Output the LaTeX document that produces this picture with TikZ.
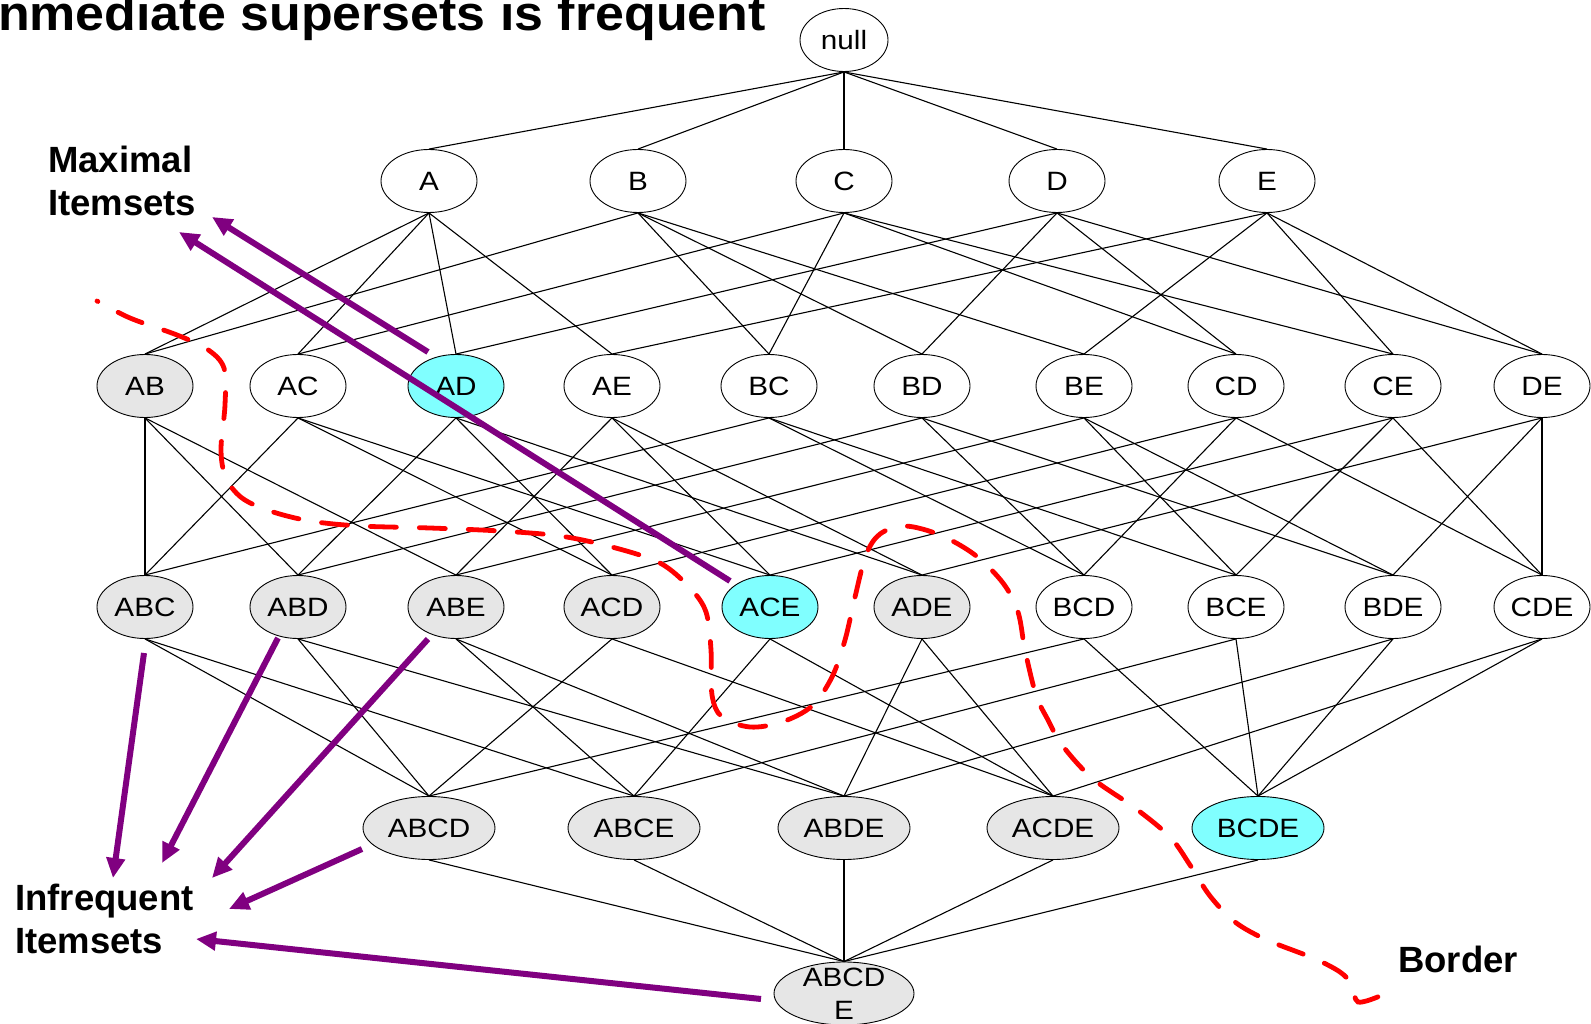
\documentclass[tikz,border=0pt]{standalone}
\usepackage{fontspec}
\setmainfont{Liberation Sans}
\newfontfamily\setfont[FakeStretch=1.12]{Liberation Sans}
\newfontfamily\headfont[FakeStretch=1.06]{Liberation Sans}
\usetikzlibrary{shapes.geometric,arrows.meta}
\definecolor{infreq}{RGB}{230,230,230}
\definecolor{maxcyan}{RGB}{128,255,255}
\definecolor{arrowpurple}{RGB}{128,0,128}

\begin{document}
\begin{tikzpicture}[x=1pt,y=-1pt,
  itemset/.style={ellipse, draw=black, line width=0.9pt, fill=white, inner sep=0pt,
    minimum width=96pt, minimum height=63pt,
    font=\setfont\fontsize{26.5}{33}\selectfont},
  wideset/.style={minimum width=132pt},
  infrequent/.style={fill=infreq},
  maximal/.style={fill=maxcyan},
  settext/.style={font=\setfont\fontsize{26.5}{33}\selectfont, align=center, inner sep=0pt},
  lattice/.style={line width=1.1pt, black},
  borderline/.style={red, line width=4.8pt, line cap=round,
    dash pattern=on 26pt off 23pt, dash phase=25pt},
  pointer/.style={arrowpurple, line width=6pt, -{Triangle[length=20pt,width=18pt]}},
  caption/.style={font=\bfseries\fontsize{36.5}{43}\selectfont, align=left, inner sep=0pt},
  heading/.style={font=\headfont\bfseries\fontsize{49}{55}\selectfont, inner sep=0pt}
]
\useasboundingbox (0,0) rectangle (1591,1024);

% heading line, partly outside the page
\node[heading, anchor=base east] (heading) at (766,31) {nmediate supersets is frequent};

% level 0
\node[itemset, minimum width=88pt] (null) at (844,40) {null};

% level 1
\node[itemset] (A) at (429,181) {A};
\node[itemset] (B) at (638,181) {B};
\node[itemset] (C) at (844,181) {C};
\node[itemset] (D) at (1057,181) {D};
\node[itemset] (E) at (1267,181) {E};

% level 2
\node[itemset, infrequent] (AB) at (145,386) {AB};
\node[itemset] (AC) at (298,386) {AC};
\node[itemset, maximal] (AD) at (456,386) {AD};
\node[itemset] (AE) at (612,386) {AE};
\node[itemset] (BC) at (769,386) {BC};
\node[itemset] (BD) at (922,386) {BD};
\node[itemset] (BE) at (1084,386) {BE};
\node[itemset] (CD) at (1236,386) {CD};
\node[itemset] (CE) at (1393,386) {CE};
\node[itemset] (DE) at (1542,386) {DE};

% level 3
\node[itemset, infrequent] (ABC) at (145,607) {ABC};
\node[itemset, infrequent] (ABD) at (298,607) {ABD};
\node[itemset, infrequent] (ABE) at (456,607) {ABE};
\node[itemset, infrequent] (ACD) at (612,607) {ACD};
\node[itemset, maximal] (ACE) at (770,607) {ACE};
\node[itemset, infrequent] (ADE) at (922,607) {ADE};
\node[itemset] (BCD) at (1084,607) {BCD};
\node[itemset] (BCE) at (1236,607) {BCE};
\node[itemset] (BDE) at (1393,607) {BDE};
\node[itemset] (CDE) at (1542,607) {CDE};

% level 4
\node[itemset, wideset, infrequent] (ABCD) at (429,828) {ABCD};
\node[itemset, wideset, infrequent] (ABCE) at (634,828) {ABCE};
\node[itemset, wideset, infrequent] (ABDE) at (844,828) {ABDE};
\node[itemset, wideset, infrequent] (ACDE) at (1053,828) {ACDE};
\node[itemset, wideset, maximal] (BCDE) at (1258,828) {BCDE};

% level 5
\node[itemset, infrequent, minimum width=140pt,
  label={[settext]center:{ABCD\\E}}] (ABCDE) at (844,993.5) {};

% lattice edges
\foreach \u/\v in {null/A,null/B,null/C,null/D,null/E,
  A/AB,A/AC,A/AD,A/AE,B/AB,B/BC,B/BD,B/BE,C/AC,C/BC,C/CD,C/CE,
  D/AD,D/BD,D/CD,D/DE,E/AE,E/BE,E/CE,E/DE,
  AB/ABC,AC/ABC,BC/ABC, AB/ABD,AD/ABD,BD/ABD, AB/ABE,AE/ABE,BE/ABE,
  AC/ACD,AD/ACD,CD/ACD, AC/ACE,AE/ACE,CE/ACE, AD/ADE,AE/ADE,DE/ADE,
  BC/BCD,BD/BCD,CD/BCD, BC/BCE,BE/BCE,CE/BCE, BD/BDE,BE/BDE,DE/BDE,
  CD/CDE,CE/CDE,DE/CDE,
  ABC/ABCD,ABD/ABCD,ACD/ABCD,BCD/ABCD, ABC/ABCE,ABE/ABCE,ACE/ABCE,BCE/ABCE,
  ABD/ABDE,ABE/ABDE,ADE/ABDE,BDE/ABDE, ACD/ACDE,ACE/ACDE,ADE/ACDE,CDE/ACDE,
  BCD/BCDE,BCE/BCDE,BDE/BCDE,CDE/BCDE,
  ABCD/ABCDE,ABCE/ABCDE,ABDE/ABCDE,ACDE/ABCDE,BCDE/ABCDE}
  \draw[lattice] (\u.south) -- (\v.north);

% captions (base anchor sits on the last line)
\node[caption, anchor=base west] (maxcap) at (48,216) {Maximal\\Itemsets};
\node[caption, anchor=base west] (infcap) at (15,953) {Infrequent\\Itemsets};
\node[caption, anchor=base west] (bordercap) at (1398,972) {Border};

% border between frequent and infrequent itemsets
\draw[borderline] plot[smooth, tension=0.55] coordinates {
  (97,301) (130,318) (177,335) (207,349) (224,368) (225,405) (221,450)
  (226,478) (242,498) (270,511) (310,521) (360,526) (430,528) (500,531)
  (560,536) (612,547) (660,563) (690,588) (706,612) (711,650) (712,695)
  (722,717) (750,727) (782,722) (812,706) (832,677) (845,640) (855,597)
  (866,555) (880,534) (905,526) (940,535) (975,555) (1003,583) (1018,612)
  (1025,650) (1036,695) (1048,720) (1062,745) (1092,778) (1135,808)
  (1170,837) (1190,865) (1210,896) (1235,922) (1267,940) (1313,958)
  (1340,972) (1352,985) (1358,1002) (1380,996)};

% pointers to the captions
\coordinate (fromAD) at (428,352);
\coordinate (fromACE) at (730,581);
\coordinate (toMaxA) at (212,217);
\coordinate (toMaxB) at (179,232);
\coordinate (fromABC) at (144,653);
\coordinate (fromABD) at (278,638);
\coordinate (fromABE) at (428,639);
\coordinate (fromABCD) at (362,849);
\coordinate (fromABCDE) at (761,999);
\coordinate (toInfA) at (113,878);
\coordinate (toInfB) at (162,863);
\coordinate (toInfC) at (212,878);
\coordinate (toInfD) at (229,909);
\coordinate (toInfE) at (196,939);

\draw[pointer] (fromAD) -- (toMaxA);
\draw[pointer] (fromACE) -- (toMaxB);
\draw[pointer] (fromABC) -- (toInfA);
\draw[pointer] (fromABD) -- (toInfB);
\draw[pointer] (fromABE) -- (toInfC);
\draw[pointer] (fromABCD) -- (toInfD);
\draw[pointer] (fromABCDE) -- (toInfE);
\end{tikzpicture}
\end{document}
